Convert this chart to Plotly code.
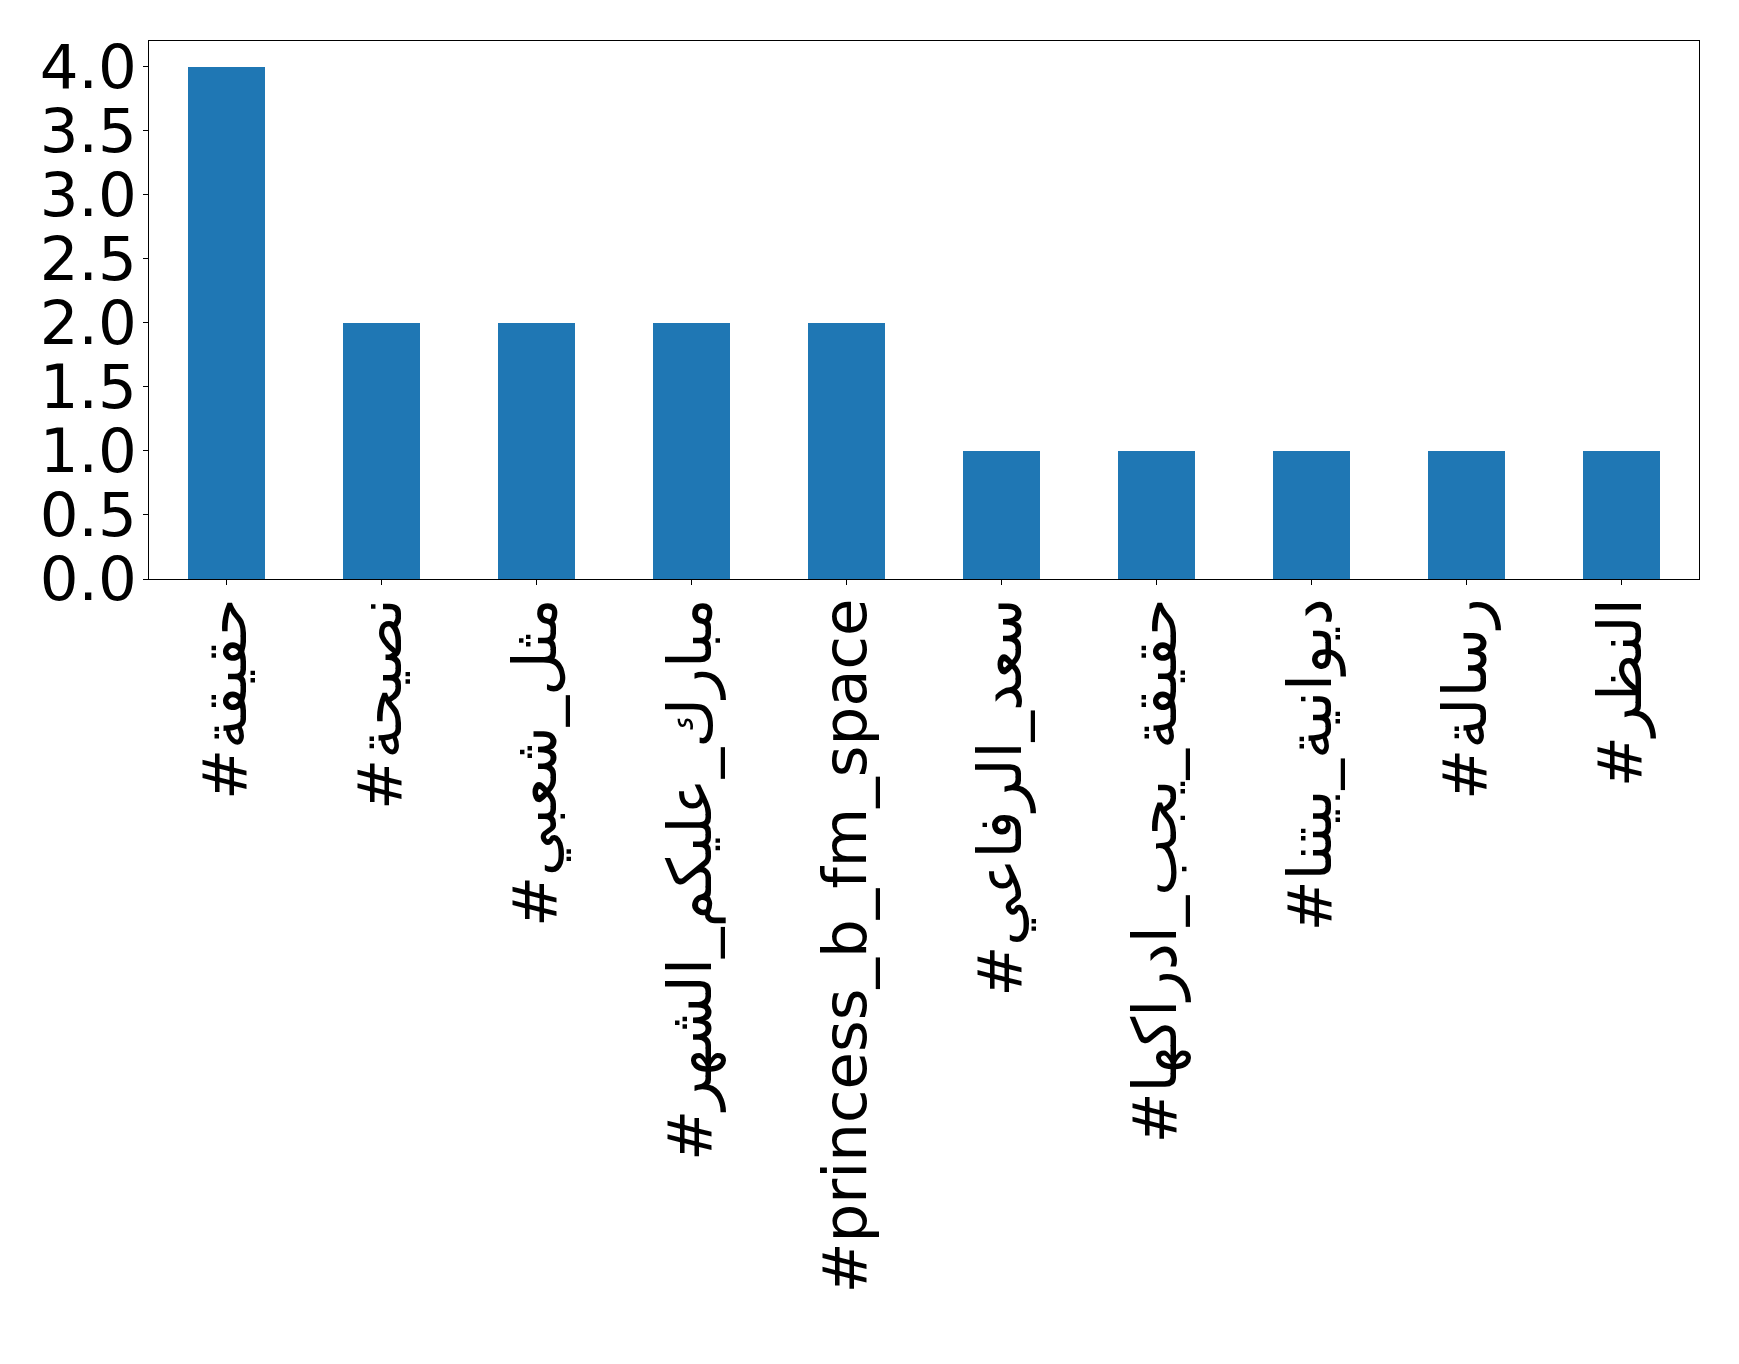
import plotly.graph_objects as go

categories = [
    "#حقيقة",
    "#نصيحة",
    "#مثل_شعبي",
    "#مبارك_عليكم_الشهر",
    "#princess_b_fm_space",
    "#سعد_الرفاعي",
    "#حقيقة_يجب_ادراكها",
    "#ديوانية_بيتنا",
    "#رسالة",
    "#النظر",
]
counts = [4, 2, 2, 2, 2, 1, 1, 1, 1, 1]
y_ticks = [0.0, 0.5, 1.0, 1.5, 2.0, 2.5, 3.0, 3.5, 4.0]

FONT = "DejaVu Sans"
FS = 61

fig = go.Figure(
    go.Bar(
        x=list(range(len(categories))),
        y=counts,
        width=0.5,
        marker=dict(color="#1f77b4", line=dict(width=0)),
    )
)

fig.update_layout(
    width=1739,
    height=1364,
    margin=dict(l=141, r=48, t=33, b=793, pad=0),
    paper_bgcolor="white",
    plot_bgcolor="white",
    font=dict(family=FONT, size=FS, color="black"),
    showlegend=False,
    bargap=0,
)

fig.update_xaxes(
    range=[-0.5, len(categories) - 0.5],
    tickmode="array",
    tickvals=list(range(len(categories))),
    ticktext=categories,
    tickangle=-90,
    ticks="outside",
    ticklen=5,
    tickwidth=1,
    tickcolor="black",
    ticklabelstandoff=-11,
    showline=True,
    linecolor="black",
    linewidth=1,
    mirror=True,
    showgrid=False,
    zeroline=False,
    automargin=False,
    tickfont=dict(family=FONT, size=FS, color="black"),
)

fig.update_yaxes(
    range=[0, 4.2],
    tickmode="array",
    tickvals=y_ticks,
    ticktext=[f"{v:.1f}" for v in y_ticks],
    ticks="outside",
    ticklen=5,
    tickwidth=1,
    tickcolor="black",
    ticklabelstandoff=-6,
    showline=True,
    linecolor="black",
    linewidth=1,
    mirror=True,
    showgrid=False,
    zeroline=False,
    automargin=False,
    tickfont=dict(family=FONT, size=FS, color="black"),
)

fig.write_html("out.html")
